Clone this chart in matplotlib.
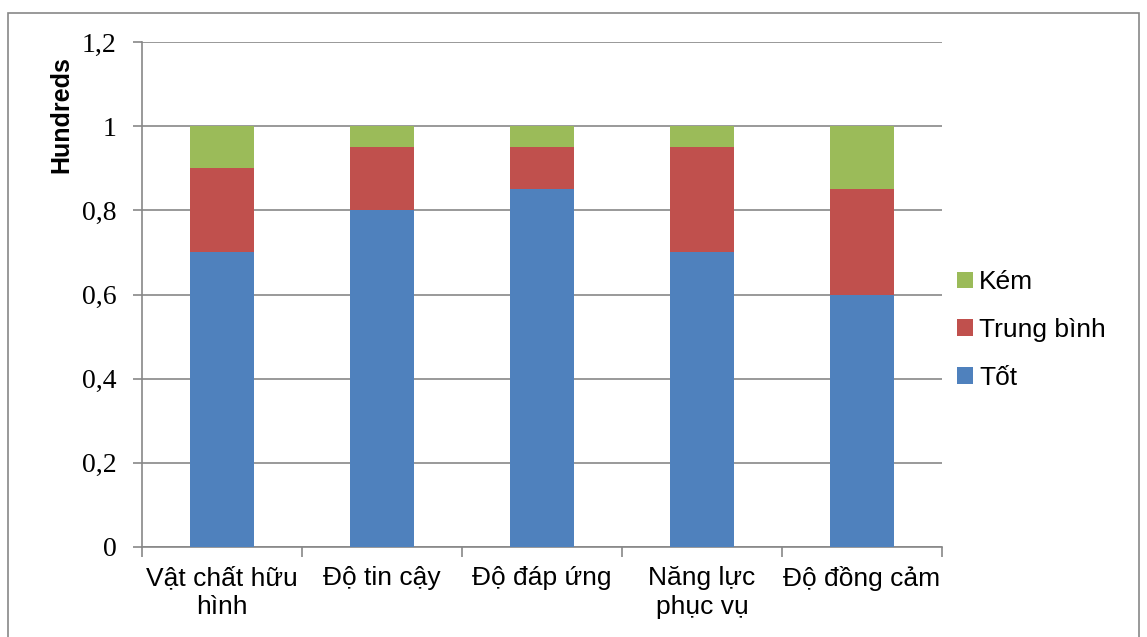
import matplotlib
matplotlib.use("Agg")
import matplotlib.pyplot as plt
from matplotlib.patches import Rectangle
from matplotlib.ticker import FuncFormatter

categories = ["Vật chất hữu\nhình", "Độ tin cậy", "Độ đáp ứng", "Năng lực\nphục vụ", "Độ đồng cảm"]
tot = [0.70, 0.80, 0.85, 0.70, 0.60]
trung_binh = [0.20, 0.15, 0.10, 0.25, 0.25]
kem = [0.10, 0.05, 0.05, 0.05, 0.15]
series_names = ["Tốt", "Trung bình", "Kém"]
colors = ["#4F81BD", "#C0504D", "#9BBB59"]
yticks = [0, 0.2, 0.4, 0.6, 0.8, 1.0, 1.2]

W, H = 1147, 637
fig = plt.figure(figsize=(W / 100, H / 100), dpi=100)
ax = fig.add_axes([142 / W, 1 - 547 / H, 800 / W, 505 / H])

x = list(range(len(categories)))
b1 = ax.bar(x, tot, width=0.4, color=colors[0], label=series_names[0], zorder=3)
bottom2 = tot
b2 = ax.bar(x, trung_binh, width=0.4, bottom=bottom2, color=colors[1], label=series_names[1], zorder=3)
bottom3 = [a + b for a, b in zip(tot, trung_binh)]
b3 = ax.bar(x, kem, width=0.4, bottom=bottom3, color=colors[2], label=series_names[2], zorder=3)

ax.set_xlim(-0.5, len(categories) - 0.5)
ax.set_ylim(0, 1.2)
ax.set_yticks(yticks)
ax.yaxis.set_major_formatter(FuncFormatter(lambda v, p: ("%g" % round(v, 1)).replace(".", ",")))
ax.grid(axis="y", color="#878787", linewidth=1.2, zorder=0)
for s in ["top", "right"]:
    ax.spines[s].set_visible(False)
for s in ["left", "bottom"]:
    ax.spines[s].set_color("#878787")
    ax.spines[s].set_linewidth(1.2)

ax.set_xticks(x)
ax.set_xticklabels(categories, fontsize=19, family=["Liberation Sans", "DejaVu Sans"], linespacing=1.22)
ax.tick_params(axis="x", length=0, pad=14)
ax.set_xticks([i - 0.5 for i in range(len(categories) + 1)], minor=True)
ax.tick_params(axis="x", which="minor", length=7, color="#878787", width=1.2)
ax.tick_params(axis="y", length=6.5, color="#878787", width=1.2, labelsize=20, pad=12)
for lbl in ax.get_yticklabels():
    lbl.set_family(["Liberation Serif", "DejaVu Serif"])

ax.set_ylabel("Hundreds", fontsize=18, fontweight="bold", family=["Liberation Sans", "DejaVu Sans"])
ax.yaxis.set_label_coords(73 / W, 1 - 115 / H, transform=fig.transFigure)

handles = [b3, b2, b1]
leg = fig.legend(handles, [series_names[2], series_names[1], series_names[0]],
                 loc="center left", bbox_to_anchor=(933 / W, 1 - 330 / H), frameon=False,
                 prop={"family": ["Liberation Sans", "DejaVu Sans"], "size": 19},
                 handlelength=0.6, handleheight=0.6, handletextpad=0.25, labelspacing=0.9)

fig.patches.append(Rectangle((8 / W, -0.1), (1139 - 8) / W, 1.1 - 13 / H, transform=fig.transFigure,
                             fill=False, edgecolor="#878787", linewidth=1.2, zorder=10))

fig.savefig("out.png", dpi=100)
